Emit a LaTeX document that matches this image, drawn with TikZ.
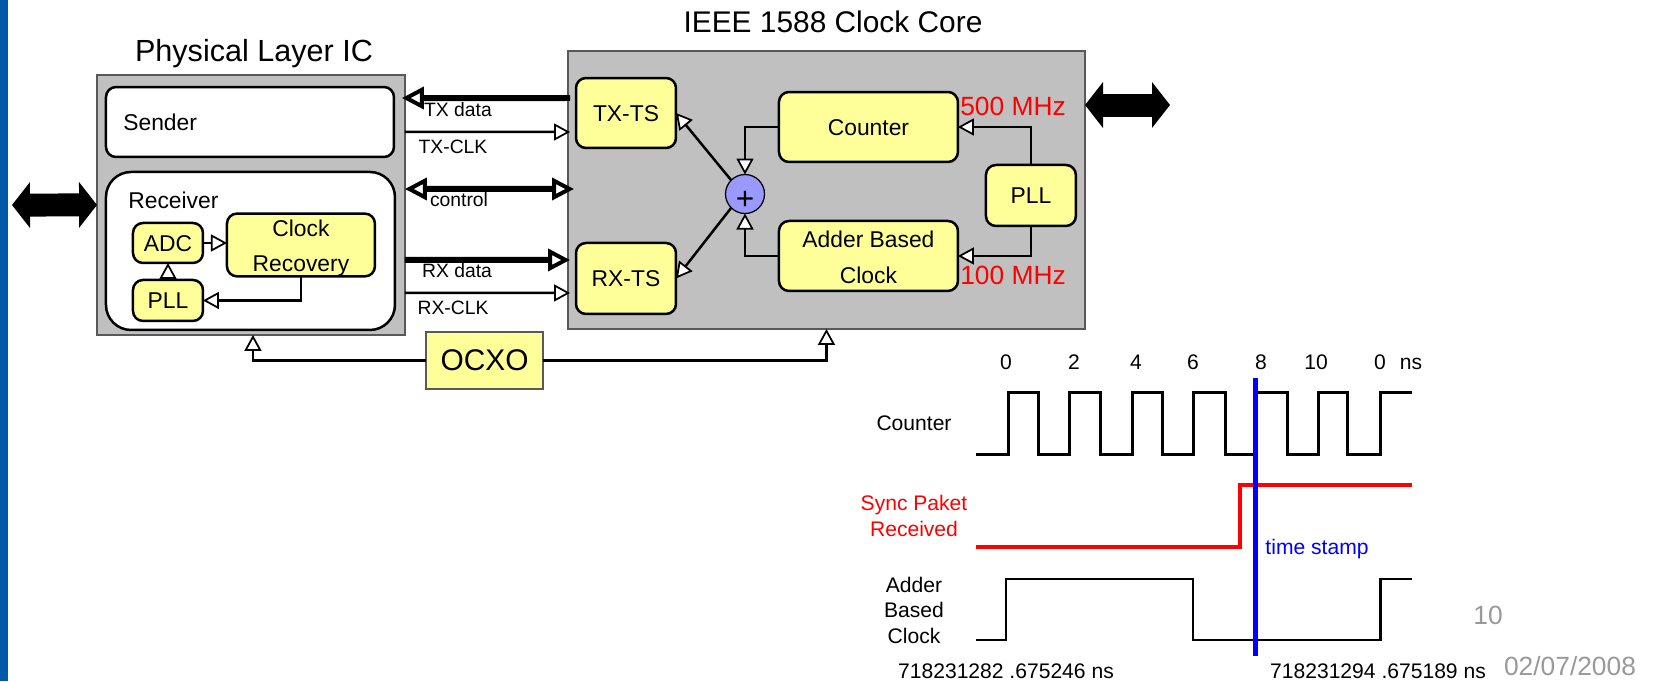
\documentclass[tikz,border=0pt]{standalone}
\usepackage{fontspec}
\setmainfont{Liberation Sans}
\usepackage{tikz}
\usetikzlibrary{positioning,arrows.meta}
\definecolor{boxyellow}{HTML}{FFFF99}
\definecolor{framegrey}{HTML}{C0C0C0}
\definecolor{sumblue}{HTML}{9999FF}
\definecolor{barblue}{HTML}{0058A8}
\definecolor{pagegrey}{HTML}{999999}

\begin{document}
\begin{tikzpicture}[x=0.02cm,y=-0.02cm,
    frame/.style={draw=black!65,line width=.025cm,fill=framegrey,outer sep=0,inner sep=0,anchor=north west},
    part/.style={draw,line width=.05cm,fill=white,rounded corners=.24cm,outer sep=0,inner sep=0,anchor=north west},
    ybox/.style={draw,line width=.05cm,fill=boxyellow,rounded corners=.2cm,outer sep=0,inner sep=0,align=center,font=\fontsize{13}{15}\selectfont},
    yone/.style={ybox,text height=9.3pt,text depth=0pt},
    titlelab/.style={inner sep=0,text height=12.5pt,text depth=0pt,font=\fontsize{17.4}{20}\selectfont},
    partlab/.style={inner sep=0,text height=9.3pt,text depth=0pt,font=\fontsize{13}{15}\selectfont},
    linelab/.style={inner sep=0,text height=7.9pt,text depth=0pt,font=\fontsize{11}{13}\selectfont},
    mhzlab/.style={inner sep=0,text height=10.7pt,text depth=0pt,red,font=\fontsize{15}{17}\selectfont},
    timelab/.style={inner sep=0,align=center,font=\fontsize{12}{14.5}\selectfont},
    ticklab/.style={inner sep=0,text height=8.6pt,text depth=0pt,font=\fontsize{12}{14}\selectfont},
    pagelab/.style={inner sep=0,text height=10.7pt,text depth=0pt,pagegrey,font=\fontsize{15}{17}\selectfont},
    flow/.style={draw,line width=.05cm,-{Triangle[fill=white,length=.32cm,width=.34cm,line width=.035cm]}},
    bus/.style={draw,line width=.12cm,-{Triangle[fill=white,length=.44cm,width=.44cm,line width=.08cm]}},
    dbus/.style={draw,line width=.12cm,{Triangle[fill=white,length=.44cm,width=.44cm,line width=.08cm]}-{Triangle[fill=white,length=.44cm,width=.44cm,line width=.08cm]}},
    port/.style={draw,line width=.46cm,{Triangle[length=.36cm,width=.9cm]}-{Triangle[length=.36cm,width=.9cm]}},
    wave/.style={draw,line width=.06cm}]
    \useasboundingbox (0,0) rectangle (1655,681);
    \fill[barblue] (0,0) rectangle (8,681);

    %% physical layer
     \node (phys) [frame,minimum width=6.16cm,minimum height=5.2cm] at (97,75) {};
     \node (physt) [titlelab] at (254,51) {Physical Layer IC};
     \node (sender) [part,rounded corners=.2cm,minimum width=5.76cm,minimum height=1.4cm,below right=.24cm and .18cm of phys.north west] {};
     \node (sendert) [partlab,anchor=west] at (123,122) {Sender};
     \node (recv) [part,rounded corners=.5cm,minimum width=5.78cm,minimum height=3.16cm,below right=1.94cm and .18cm of phys.north west] {};
     \node (recvt) [partlab,anchor=west] at (128,200) {Receiver};
     \node (adc) [yone,anchor=north west,minimum width=1.4cm,minimum height=.8cm,below right=1.02cm and .54cm of recv.north west] {ADC};
     \node (clk) [ybox,minimum width=2.96cm,minimum height=1.2cm,right=.48cm of adc,yshift=-.04cm,font=\fontsize{13}{20}\selectfont] {\rule{0pt}{13pt}Clock\\Recovery};
     \node (pllr) [yone,minimum width=1.4cm,minimum height=.82cm,below=.34cm of adc] {PLL};

     \draw[flow] (adc) -- (clk.west |- adc);
     \draw[flow] (pllr) -- (adc);
     \draw[flow] (clk.south) |- (pllr.east);

    %% clock core
     \node (core) [frame,minimum width=10.34cm,minimum height=5.56cm] at (568,51) {};
     \node (coret) [titlelab,font=\fontsize{17}{20}\selectfont] at (833,22) {IEEE 1588 Clock Core};
     \node (txts) [yone,anchor=north west,minimum width=2cm,minimum height=1.4cm,below right=.54cm and .16cm of core.north west] {TX-TS};
     \node (rxts) [yone,minimum width=2cm,minimum height=1.42cm,below=1.9cm of txts] {RX-TS};
     \node (cnt) [yone,anchor=north west,minimum width=3.58cm,minimum height=1.4cm,below right=.82cm and 4.22cm of core.north west] {Counter};
     \node (add) [ybox,minimum width=3.58cm,minimum height=1.4cm,below=1.18cm of cnt,font=\fontsize{13}{20}\selectfont] {\rule{0pt}{11pt}Adder Based\\Clock};
     \node (pllc) [yone,anchor=north west,minimum width=1.8cm,minimum height=1.22cm,below right=2.28cm and 8.36cm of core.north west] {PLL};
     \node (sum) [draw,circle,line width=.025cm,fill=sumblue,minimum size=.78cm,inner sep=0,outer sep=0] at (745,194) {};
     \node (sums) [inner sep=0,text height=12pt,text depth=0pt,font=\fontsize{18}{20}\selectfont] at (745,199) {+};
     \node (mhza) [mhzlab] at (1013,106) {500 MHz};
     \node (mhzb) [mhzlab] at (1013,275) {100 MHz};

     \draw[flow] (cnt.west) -| (sum.north);
     \draw[flow] (add.west) -| (sum.south);
     \draw[flow] (sum.north west) -- (txts.east);
     \draw[flow] (sum.south west) -- (rxts.east);
     \draw[flow] (pllc.north) |- (cnt.east);
     \draw[flow] (pllc.south) |- (add.east);

    %% links between the two
     \draw[bus] ([xshift=-.12cm,yshift=.3cm]txts.west) -- ([xshift=-.06cm,yshift=2.14cm]phys.east);
     \draw[flow] ([yshift=1.46cm]phys.east) -- ([xshift=-.12cm,yshift=-.38cm]txts.west);
     \draw[dbus] ([yshift=.32cm]phys.east) -- ([xshift=.12cm,yshift=.02cm]core.west);
     \draw[bus] ([yshift=-1.1cm]phys.east) -- ([xshift=-.12cm,yshift=.37cm]rxts.west);
     \draw[flow] ([yshift=-1.76cm]phys.east) -- ([xshift=-.12cm,yshift=-.29cm]rxts.west);
     \node (txd) [linelab] at (458,110) {TX data};
     \node (txc) [linelab] at (453,147) {TX-CLK};
     \node (ctl) [linelab] at (459,200) {control};
     \node (rxd) [linelab] at (457,271) {RX data};
     \node (rxc) [linelab] at (453,308) {RX-CLK};

     \node (ocxo) [draw=black!65,line width=.025cm,fill=boxyellow,minimum width=2.34cm,minimum height=1.14cm,inner sep=0,outer sep=0,font=\fontsize{17}{19}\selectfont] at (484.5,360.5) {OCXO};
     \draw[flow] (ocxo.west) -| ([xshift=.04cm]phys.south);
     \draw[flow] (ocxo.east) -| (core.south);

     \coordinate (lan) at (12,205);
     \coordinate (hosta) at (1085,105);
     \coordinate (hostb) at (1170,105);
     \draw[port] (lan) -- (phys.west);
     \draw[port] (hosta) -- (hostb);

    %% timing
     \node (t0) [ticklab] at (1006,362) {0};
     \node (t2) [ticklab] at (1074,362) {2};
     \node (t4) [ticklab] at (1136,362) {4};
     \node (t6) [ticklab] at (1193,362) {6};
     \node (t8) [ticklab] at (1261,362) {8};
     \node (t10) [ticklab] at (1316,362) {10};
     \node (t0b) [ticklab] at (1380,362) {0};
     \node (tns) [ticklab] at (1411,362) {ns};

     \node (wcnt) [ticklab] at (914,423) {Counter};
     \node (wsync) [timelab,red] at (914,516) {Sync Paket\\Received};
     \node (wadd) [timelab] at (914,610) {Adder\\Based\\Clock};

     \draw[wave] (976,454) -| (1008,392) -| (1038,454) -| (1069,392) -| (1100,454) -| (1132,392) -| (1162,454)
       -| (1193,392) -| (1225,454) -| (1256,392) -| (1287,454) -| (1318,392) -| (1347,454) -| (1380.5,392) -- (1412,392);
     \draw[wave,red,line width=.08cm] (976,547) -| (1240,485) -- (1412,485);
     \draw[wave,line width=.05cm] (976,640) -| (1006,579) -| (1193,640) -| (1380.5,579) -- (1412,579);
     \draw[blue,line width=.1cm] (1255,378) -- (1255,656);
     \node (stamp) [ticklab,blue] at (1317,547) {time stamp};

     \node (ta) [ticklab] at (1006,671) {718231282 .675246 ns};
     \node (tb) [ticklab] at (1378,671) {718231294 .675189 ns};
     \node (pnum) [pagelab] at (1488,615) {10};
     \node (pdate) [pagelab] at (1570,666) {02/07/2008};
\end{tikzpicture}
\end{document}
